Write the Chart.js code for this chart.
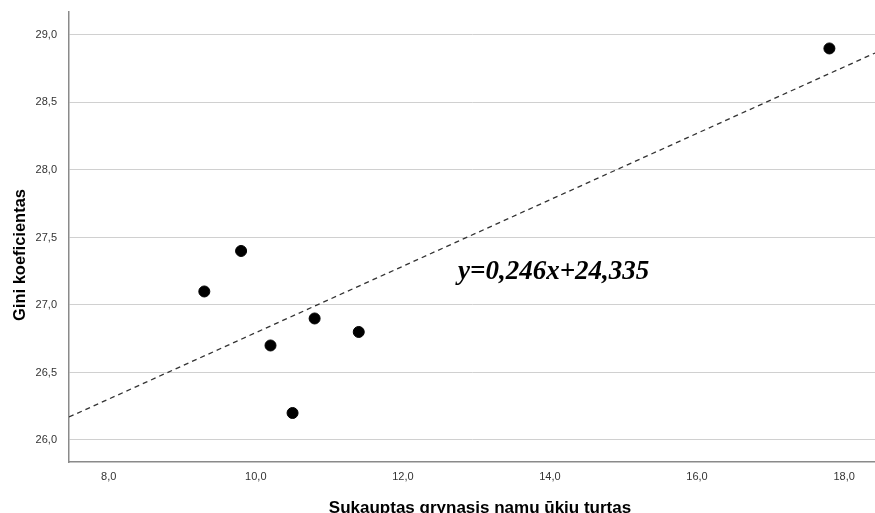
<!DOCTYPE html>
<html>
<head>
<meta charset="utf-8">
<script src="https://cdn.jsdelivr.net/npm/chart.js@4/dist/chart.umd.min.js"></script>
<style>
    html, body { margin: 0; padding: 0; background: #fff; }
    #wrap { width: 875px; height: 513px; }
</style>
</head>
<body>
<div id="wrap"><canvas id="chart" width="875" height="513"></canvas></div>
<script>
// values
const wealth = [9.3, 9.8, 10.2, 10.5, 10.8, 11.4, 17.8];
const gini = [27.1, 27.4, 26.7, 26.2, 26.9, 26.8, 28.9];
const slope = 0.246;
const intercept = 24.335;
const equationLabel = 'y=0,246x+24,335';
const xTitle = 'Sukauptas grynasis namų ūkių turtas';
const yTitle = 'Gini koeficientas';

const xMin = 7.46, xMax = 18.42;
const yMin = 25.837, yMax = 29.17;

const comma = v => v.toFixed(1).replace('.', ',');

// equation + axis titles, drawn by hand so they sit where SPSS put them
const extraText = {
    id: 'extraText',
    afterDraw(chart) {
        const {ctx, scales} = chart;
        ctx.save();
        ctx.fillStyle = '#000';
        ctx.font = 'italic bold 27px "Liberation Serif"';
        ctx.textAlign = 'left';
        ctx.textBaseline = 'alphabetic';
        ctx.fillText(equationLabel, scales.x.getPixelForValue(12.75), scales.y.getPixelForValue(27.19));

        ctx.font = 'bold 17px "Liberation Sans"';
        ctx.textAlign = 'center';
        ctx.fillText(xTitle, 480, 513);

        ctx.translate(25, 255);
        ctx.rotate(-Math.PI / 2);
        ctx.font = 'bold 16.5px "Liberation Sans"';
        ctx.fillText(yTitle, 0, 0);
        ctx.restore();
    }
};

new Chart(document.getElementById('chart').getContext('2d'), {
    type: 'scatter',
    data: {
        datasets: [
            {
                label: 'points',
                data: wealth.map((x, i) => ({x, y: gini[i]})),
                backgroundColor: '#000',
                borderColor: '#000',
                pointRadius: 5.5,
                pointHoverRadius: 5.5,
            },
            {
                type: 'line',
                label: 'fit',
                data: [xMin, xMax].map(x => ({x, y: slope * x + intercept})),
                borderColor: '#333',
                borderWidth: 1.3,
                borderDash: [5, 4],
                pointRadius: 0,
                fill: false,
            },
        ]
    },
    options: {
        responsive: false,
        animation: false,
        layout: { autoPadding: false, padding: { top: 12, right: 0, left: 0, bottom: 0 } },
        plugins: { legend: { display: false }, tooltip: { enabled: false } },
        scales: {
            x: {
                type: 'linear',
                min: xMin,
                max: xMax,
                afterFit: s => {
                    s.height = 51;
                    s.paddingLeft = 0;
                    s.paddingRight = 0;
                },
                grid: { display: false, drawTicks: false },
                border: { display: true, color: '#8a8a8a', width: 1.5 },
                ticks: {
                    stepSize: 2,
                    includeBounds: false,
                    padding: 8,
                    color: '#333',
                    font: { family: '"Liberation Sans"', size: 11 },
                    callback: comma,
                },
            },
            y: {
                type: 'linear',
                min: yMin,
                max: yMax,
                afterFit: s => {
                    s.width = 69;
                    s.paddingTop = 0;
                    s.paddingBottom = 0;
                },
                grid: { color: '#d0d0d0', drawTicks: false, lineWidth: 1 },
                border: { display: true, color: '#8a8a8a', width: 1.5 },
                ticks: {
                    stepSize: 0.5,
                    includeBounds: false,
                    padding: 12,
                    color: '#333',
                    font: { family: '"Liberation Sans"', size: 11 },
                    callback: comma,
                },
            },
        },
    },
    plugins: [extraText],
});
</script>
</body>
</html>
